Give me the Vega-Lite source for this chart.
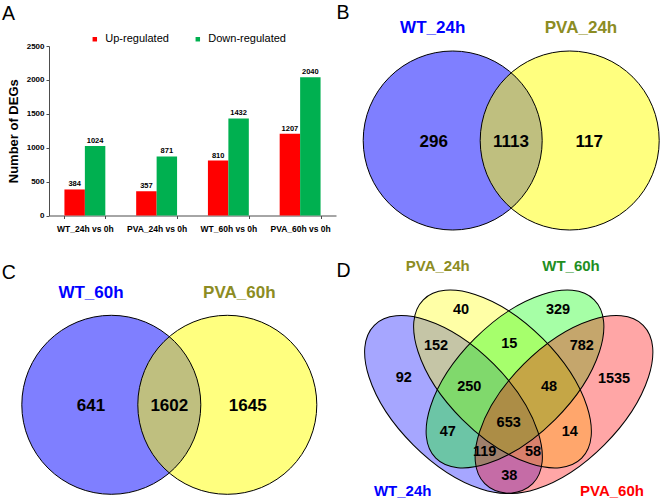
{
  "$schema": "https://vega.github.io/schema/vega-lite/v6.json",
  "padding": 0,
  "autosize": {"type": "pad"},
  "background": "white",
  "config": {
    "font": "Liberation Sans",
    "view": {"stroke": null},
    "axis": {"grid": false}
  },
  "resolve": {"scale": {"color": "independent", "fill": "independent"}, "legend": {"color": "independent", "fill": "independent"}},
  "columns": 2,
  "spacing": {"row": 54.5, "column": 5},
  "bounds": "flush",
  "align": "each",
  "concat": [
    {
      "width": 287,
      "height": 169.5,
      "resolve": {"scale": {"x": "independent", "y": "independent"}},
      "layer": [
        {
          "data": {"values": [
            {"comparison": "WT_24h vs 0h", "regulation": "Up-regulated", "count": 384},
            {"comparison": "WT_24h vs 0h", "regulation": "Down-regulated", "count": 1024},
            {"comparison": "PVA_24h vs 0h", "regulation": "Up-regulated", "count": 357},
            {"comparison": "PVA_24h vs 0h", "regulation": "Down-regulated", "count": 871},
            {"comparison": "WT_60h vs 0h", "regulation": "Up-regulated", "count": 810},
            {"comparison": "WT_60h vs 0h", "regulation": "Down-regulated", "count": 1432},
            {"comparison": "PVA_60h vs 0h", "regulation": "Up-regulated", "count": 1207},
            {"comparison": "PVA_60h vs 0h", "regulation": "Down-regulated", "count": 2040}
          ]},
          "encoding": {
            "x": {
              "field": "comparison", "type": "nominal",
              "sort": ["WT_24h vs 0h", "PVA_24h vs 0h", "WT_60h vs 0h", "PVA_60h vs 0h"],
              "scale": {"paddingInner": 0.43, "paddingOuter": 0.215},
              "axis": {"title": null, "labelAngle": 0, "labelFontSize": 8.5, "labelFontWeight": "bold", "labelColor": "black", "labelPadding": 6, "tickSize": 3, "tickBand": "extent", "domainColor": "#4d4d4d", "tickColor": "#4d4d4d"}
            },
            "xOffset": {"field": "regulation", "type": "nominal", "sort": ["Up-regulated", "Down-regulated"], "scale": {"paddingInner": 0, "paddingOuter": 0}},
            "y": {
              "field": "count", "type": "quantitative",
              "scale": {"domain": [0, 2500], "nice": false},
              "axis": {"title": "Number of DEGs", "titleFontSize": 13, "titleFontWeight": "bold", "titleColor": "black", "titlePadding": 6, "values": [0, 500, 1000, 1500, 2000, 2500], "format": "d", "labelFontSize": 8, "labelFontWeight": "bold", "labelColor": "black", "labelPadding": 2, "tickSize": 3, "domainColor": "#4d4d4d", "tickColor": "#4d4d4d"}
            }
          },
          "layer": [
            {
              "mark": {"type": "bar"},
              "encoding": {
                "color": {
                  "field": "regulation", "type": "nominal",
                  "scale": {"domain": ["Up-regulated", "Down-regulated"], "range": ["#ff0000", "#00b050"]},
                  "legend": {"orient": "none", "legendX": 40.3, "legendY": -12.5, "direction": "horizontal", "title": null, "symbolType": "square", "symbolSize": 20, "symbolStrokeWidth": 0, "labelFontSize": 11, "labelOffset": 5, "columnPadding": 23, "labelColor": "black"}
                }
              }
            },
            {
              "mark": {"type": "text", "dy": -3, "baseline": "alphabetic", "fontSize": 7.5, "fontWeight": "bold", "color": "black"},
              "encoding": {"text": {"field": "count", "type": "quantitative"}}
            }
          ]
        },
        {
          "data": {"values": [{"panel": "A", "x": 1, "y": 19.3}]},
          "mark": {"type": "text", "fontSize": 19.5, "fontWeight": "normal", "baseline": "alphabetic", "align": "left", "color": "black"},
          "encoding": {
            "x": {"field": "x", "type": "quantitative", "scale": {"domain": [48, 335], "nice": false, "zero": false}, "axis": null},
            "y": {"field": "y", "type": "quantitative", "scale": {"domain": [45.5, 215], "nice": false, "zero": false, "reverse": true}, "axis": null},
            "text": {"field": "panel"}
          }
        }
      ]
    },
    {
      "width": 320,
      "height": 200,
      "encoding": {
        "x": {"field": "x", "type": "quantitative", "scale": {"domain": [10, 330], "nice": false, "zero": false}, "axis": null},
        "y": {"field": "y", "type": "quantitative", "scale": {"domain": [45.5, 245.5], "nice": false, "zero": false, "reverse": true}, "axis": null}
      },
      "layer": [
        {
          "data": {"values": [{"x": 0, "x2": 330, "y": 0, "y2": 250}]},
          "mark": {"type": "rect", "fillOpacity": 0, "strokeWidth": 0},
          "encoding": {"x2": {"field": "x2"}, "y2": {"field": "y2"}}
        },
        {
          "data": {"values": [{"set": "WT_24h", "x": 121.7, "y": 140}, {"set": "PVA_24h", "x": 238.7, "y": 140}]},
          "mark": {"type": "point", "shape": "circle", "size": 32041, "filled": true, "fillOpacity": 0.5, "opacity": 1, "strokeWidth": 0},
          "encoding": {"fill": {"field": "set", "type": "nominal", "scale": {"domain": ["WT_24h", "PVA_24h"], "range": ["#0000ff", "#ffff00"]}, "legend": null}}
        },
        {
          "data": {"values": [{"set": "WT_24h", "x": 121.7, "y": 140}, {"set": "PVA_24h", "x": 238.7, "y": 140}]},
          "mark": {"type": "point", "shape": "circle", "size": 32041, "filled": false, "stroke": "black", "strokeWidth": 1, "opacity": 1}
        },
        {
          "data": {"values": [{"set": "WT_24h", "x": 101.7, "y": 27.5}, {"set": "PVA_24h", "x": 250, "y": 27.5}]},
          "mark": {"type": "text", "fontSize": 17, "fontWeight": "bold", "baseline": "middle", "align": "center"},
          "encoding": {"text": {"field": "set"}, "color": {"field": "set", "type": "nominal", "scale": {"domain": ["WT_24h", "PVA_24h"], "range": ["#0000ff", "#8c8c23"]}, "legend": null}}
        },
        {
          "data": {"values": [{"n": 296, "x": 102.7, "y": 141.7}, {"n": 1113, "x": 180, "y": 141.7}, {"n": 117, "x": 258.3, "y": 141.7}]},
          "mark": {"type": "text", "fontSize": 17, "fontWeight": "bold", "baseline": "middle", "align": "center", "color": "black"},
          "encoding": {"text": {"field": "n", "type": "quantitative"}}
        },
        {
          "data": {"values": [{"panel": "B", "x": 5.5, "y": 18.3}]},
          "mark": {"type": "text", "fontSize": 19.5, "fontWeight": "normal", "baseline": "alphabetic", "align": "left", "color": "black"},
          "encoding": {"text": {"field": "panel"}}
        }
      ]
    },
    {
      "width": 287,
      "height": 190,
      "encoding": {
        "x": {"field": "x", "type": "quantitative", "scale": {"domain": [48, 335], "nice": false, "zero": false}, "axis": null},
        "y": {"field": "y", "type": "quantitative", "scale": {"domain": [50, 240], "nice": false, "zero": false, "reverse": true}, "axis": null}
      },
      "layer": [
        {
          "data": {"values": [{"x": 0, "x2": 330, "y": 0, "y2": 251}]},
          "mark": {"type": "rect", "fillOpacity": 0, "strokeWidth": 0},
          "encoding": {"x2": {"field": "x2"}, "y2": {"field": "y2"}}
        },
        {
          "data": {"values": [{"set": "WT_60h", "x": 110.3, "y": 154.3}, {"set": "PVA_60h", "x": 226.3, "y": 154.3}]},
          "mark": {"type": "point", "shape": "circle", "size": 32041, "filled": true, "fillOpacity": 0.5, "opacity": 1, "strokeWidth": 0},
          "encoding": {"fill": {"field": "set", "type": "nominal", "scale": {"domain": ["WT_60h", "PVA_60h"], "range": ["#0000ff", "#ffff00"]}, "legend": null}}
        },
        {
          "data": {"values": [{"set": "WT_60h", "x": 110.3, "y": 154.3}, {"set": "PVA_60h", "x": 226.3, "y": 154.3}]},
          "mark": {"type": "point", "shape": "circle", "size": 32041, "filled": false, "stroke": "black", "strokeWidth": 1, "opacity": 1}
        },
        {
          "data": {"values": [{"set": "WT_60h", "x": 90, "y": 42}, {"set": "PVA_60h", "x": 238.3, "y": 42}]},
          "mark": {"type": "text", "fontSize": 17, "fontWeight": "bold", "baseline": "middle", "align": "center"},
          "encoding": {"text": {"field": "set"}, "color": {"field": "set", "type": "nominal", "scale": {"domain": ["WT_60h", "PVA_60h"], "range": ["#0000ff", "#8c8c23"]}, "legend": null}}
        },
        {
          "data": {"values": [{"n": 641, "x": 90, "y": 155}, {"n": 1602, "x": 168.3, "y": 155}, {"n": 1645, "x": 246.7, "y": 155}]},
          "mark": {"type": "text", "fontSize": 17, "fontWeight": "bold", "baseline": "middle", "align": "center", "color": "black"},
          "encoding": {"text": {"field": "n", "type": "quantitative"}}
        },
        {
          "data": {"values": [{"panel": "C", "x": 0.7, "y": 28.3}]},
          "mark": {"type": "text", "fontSize": 19.5, "fontWeight": "normal", "baseline": "alphabetic", "align": "left", "color": "black"},
          "encoding": {"text": {"field": "panel"}}
        }
      ]
    },
    {
      "width": 320,
      "height": 190,
      "encoding": {
        "x": {"field": "x", "type": "quantitative", "scale": {"domain": [10, 330], "nice": false, "zero": false}, "axis": null},
        "y": {"field": "y", "type": "quantitative", "scale": {"domain": [50, 240], "nice": false, "zero": false, "reverse": true}, "axis": null}
      },
      "layer": [
        {
          "data": {"values": [{"x": 0, "x2": 330, "y": 0, "y2": 251}]},
          "mark": {"type": "rect", "fillOpacity": 0, "strokeWidth": 0},
          "encoding": {"x2": {"field": "x2"}, "y2": {"field": "y2"}}
        },
        {
          "data": {"values": [
            {"set": "WT_24h", "x": 122.5, "y": 154, "tilt": 45},
            {"set": "PVA_24h", "x": 171.5, "y": 128.5, "tilt": 45},
            {"set": "WT_60h", "x": 184, "y": 128.5, "tilt": 135},
            {"set": "PVA_60h", "x": 233, "y": 154, "tilt": 135}
          ]},
          "mark": {"type": "point", "shape": "M 1 0 C 1 0.2811 0.5523 0.509 0 0.509 C -0.5523 0.509 -1 0.2811 -1 0 C -1 -0.2811 -0.5523 -0.509 0 -0.509 C 0.5523 -0.509 1 -0.2811 1 0 Z", "size": 50176, "filled": true, "fillOpacity": 0.35, "opacity": 1, "strokeWidth": 0},
          "encoding": {
            "fill": {"field": "set", "type": "nominal", "scale": {"domain": ["WT_24h", "PVA_24h", "WT_60h", "PVA_60h"], "range": ["#0000ff", "#ffff00", "#00ff00", "#ff0000"]}, "legend": null},
            "angle": {"field": "tilt", "type": "quantitative", "scale": null}
          }
        },
        {
          "data": {"values": [
            {"set": "WT_24h", "x": 122.5, "y": 154, "tilt": 45},
            {"set": "PVA_24h", "x": 171.5, "y": 128.5, "tilt": 45},
            {"set": "WT_60h", "x": 184, "y": 128.5, "tilt": 135},
            {"set": "PVA_60h", "x": 233, "y": 154, "tilt": 135}
          ]},
          "mark": {"type": "point", "shape": "M 1 0 C 1 0.2811 0.5523 0.509 0 0.509 C -0.5523 0.509 -1 0.2811 -1 0 C -1 -0.2811 -0.5523 -0.509 0 -0.509 C 0.5523 -0.509 1 -0.2811 1 0 Z", "size": 50176, "filled": false, "stroke": "black", "strokeWidth": 1, "opacity": 1},
          "encoding": {"angle": {"field": "tilt", "type": "quantitative", "scale": null}}
        },
        {
          "data": {"values": [
            {"set": "PVA_24h", "x": 106.7, "y": 15},
            {"set": "WT_60h", "x": 240, "y": 15},
            {"set": "WT_24h", "x": 71.7, "y": 240.7},
            {"set": "PVA_60h", "x": 281, "y": 240.7}
          ]},
          "mark": {"type": "text", "fontSize": 15, "fontWeight": "bold", "baseline": "middle", "align": "center"},
          "encoding": {"text": {"field": "set"}, "color": {"field": "set", "type": "nominal", "scale": {"domain": ["WT_24h", "PVA_24h", "WT_60h", "PVA_60h"], "range": ["#0000ff", "#8c8c23", "#1f8f1f", "#ff0000"]}, "legend": null}}
        },
        {
          "data": {"values": [
            {"n": 40, "x": 130, "y": 59.5},
            {"n": 329, "x": 227, "y": 59.3},
            {"n": 152, "x": 105, "y": 95.5},
            {"n": 15, "x": 178.3, "y": 93.3},
            {"n": 782, "x": 250.8, "y": 95.8},
            {"n": 92, "x": 72.7, "y": 127.7},
            {"n": 250, "x": 138.3, "y": 136},
            {"n": 48, "x": 218, "y": 136},
            {"n": 1535, "x": 283, "y": 128},
            {"n": 653, "x": 177.7, "y": 172.3},
            {"n": 47, "x": 116.7, "y": 181},
            {"n": 14, "x": 238.7, "y": 181},
            {"n": 119, "x": 153.7, "y": 201},
            {"n": 58, "x": 202, "y": 201},
            {"n": 38, "x": 178.3, "y": 225}
          ]},
          "mark": {"type": "text", "fontSize": 14.5, "fontWeight": "bold", "baseline": "middle", "align": "center", "color": "black"},
          "encoding": {"text": {"field": "n", "type": "quantitative"}}
        },
        {
          "data": {"values": [{"panel": "D", "x": 5.5, "y": 26.7}]},
          "mark": {"type": "text", "fontSize": 19.5, "fontWeight": "normal", "baseline": "alphabetic", "align": "left", "color": "black"},
          "encoding": {"text": {"field": "panel"}}
        }
      ]
    }
  ]
}
